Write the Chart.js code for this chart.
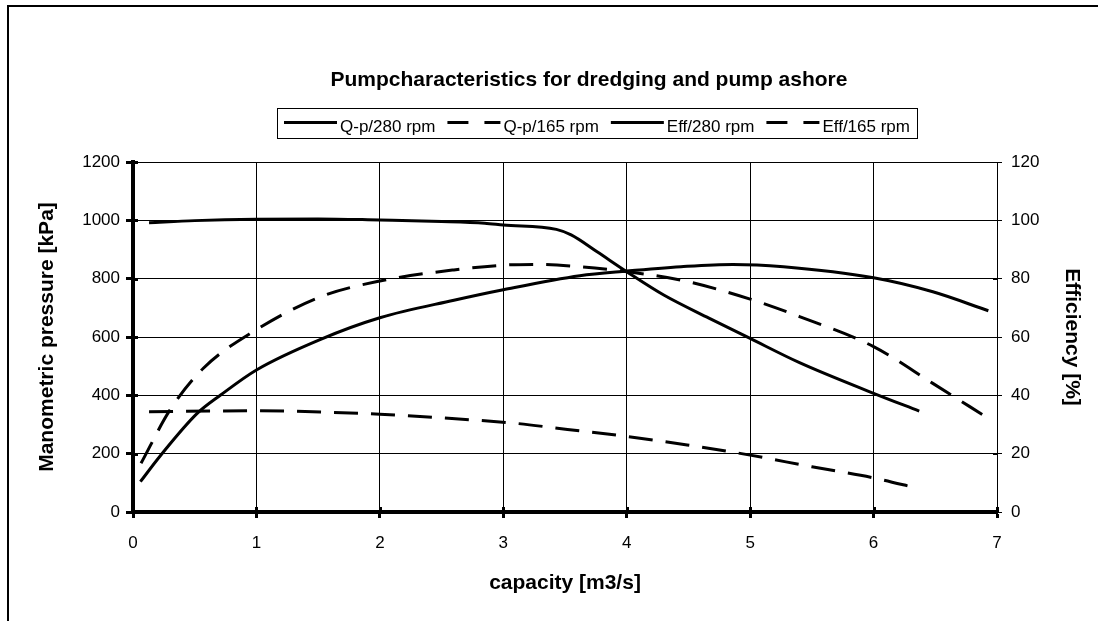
<!DOCTYPE html>
<html>
<head>
<meta charset="utf-8">
<script src="https://cdn.jsdelivr.net/npm/chart.js@4.4.1/dist/chart.umd.min.js"></script>
<style>
  html, body { margin: 0; padding: 0; background: #fff; }
</style>
</head>
<body>
<canvas id="myChart" width="1098" height="621"></canvas>
<script>
const chartTitle = 'Pumpcharacteristics for dredging and pump ashore';
const xTitle = 'capacity [m3/s]';
const yTitle = 'Manometric pressure [kPa]';
const y1Title = 'Efficiency [%]';
const seriesLabels = ['Q-p/280 rpm', 'Q-p/165 rpm', 'Eff/280 rpm', 'Eff/165 rpm'];

// pressure curves, kPa
const qp280X = [0.13, 0.5, 1.0, 1.5, 2.0, 2.5, 2.85, 3.0, 3.43, 3.55, 3.76, 4.0, 4.3, 4.67, 5.0, 5.4, 6.0, 6.37];
const qp280Y = [992, 999, 1004, 1005, 1001, 996, 990, 984, 969, 950, 892, 824, 744, 664, 595, 512, 407, 346];
const qp165X = [0.13, 1.0, 1.52, 2.0, 2.49, 3.1, 3.52, 4.0, 4.49, 5.0, 5.5, 6.0, 6.36];
const qp165Y = [344, 347, 343, 335, 323, 304, 283, 259, 230, 195, 155, 117, 81];

// efficiency curves, %
const eff280X = [0.06, 0.22, 0.52, 0.71, 1.0, 1.52, 2.0, 2.6, 3.0, 3.62, 4.0, 4.44, 4.86, 5.27, 6.0, 6.48, 6.93];
const eff280Y = [10.4, 19.2, 33.8, 40.1, 48.7, 59.2, 66.6, 72.6, 76.2, 81.0, 82.6, 84.1, 84.9, 84.1, 80.3, 75.5, 69.0];
const eff165X = [0.065, 0.30, 0.57, 0.98, 1.52, 2.0, 2.6, 3.03, 3.26, 3.62, 4.0, 4.44, 5.0, 5.4, 6.0, 6.48, 6.93];
const eff165Y = [16.7, 35.0, 49.3, 62.0, 73.8, 79.2, 83.0, 84.7, 84.9, 84.1, 82.4, 79.5, 73.0, 67.0, 56.7, 44.1, 32.1];

const FONT = '"Liberation Sans", Arial, sans-serif';
const DASH = [24, 13];

function pts(xs, ys) {
    return xs.map((x, i) => ({ x: x, y: ys[i] }));
}

function line(label, data, axis, dashed) {
    return {
        label: label,
        data: data,
        yAxisID: axis,
        borderColor: '#000',
        backgroundColor: '#000',
        borderWidth: 3,
        borderDash: dashed ? DASH : [],
        pointRadius: 0,
        cubicInterpolationMode: 'monotone',
        fill: false
    };
}

// frame, title, boxed legend and ticks that cross the axes
const extras = {
    id: 'extras',
    afterDraw(chart) {
        const ctx = chart.ctx;
        const area = chart.chartArea;
        ctx.save();

        ctx.strokeStyle = '#000';
        ctx.lineWidth = 2;
        ctx.beginPath();
        ctx.moveTo(8, 621);
        ctx.lineTo(8, 6);
        ctx.lineTo(1098, 6);
        ctx.stroke();

        // inner half of the tick marks
        const xs = chart.scales.x, ys = chart.scales.y, y1 = chart.scales.y1;
        ctx.lineWidth = 3;
        ctx.beginPath();
        xs.ticks.forEach(t => {
            const px = Math.round(xs.getPixelForValue(t.value)) + 0.5;
            ctx.moveTo(px, area.bottom - 5);
            ctx.lineTo(px, area.bottom);
        });
        ys.ticks.forEach(t => {
            const py = Math.round(ys.getPixelForValue(t.value)) + 0.5;
            ctx.moveTo(area.left, py);
            ctx.lineTo(area.left + 5, py);
        });
        ctx.stroke();
        ctx.lineWidth = 1;
        ctx.beginPath();
        y1.ticks.forEach(t => {
            const py = Math.round(y1.getPixelForValue(t.value)) + 0.5;
            ctx.moveTo(area.right - 4, py);
            ctx.lineTo(area.right, py);
        });
        ctx.stroke();

        // title
        ctx.fillStyle = '#000';
        ctx.font = 'bold 21px ' + FONT;
        ctx.textAlign = 'center';
        ctx.textBaseline = 'alphabetic';
        ctx.fillText(chartTitle, 589, 86);

        // legend
        ctx.font = '17px ' + FONT;
        const sample = 53, gapText = 3, gapItem = 12, padX = 7;
        const items = chart.data.datasets.map(ds => ({
            label: ds.label,
            dashed: ds.borderDash.length > 0,
            w: ctx.measureText(ds.label).width
        }));
        const total = items.reduce((s, it) => s + sample + gapText + it.w, 0) + gapItem * (items.length - 1);
        const boxL = Math.round(597 - total / 2 - padX);
        ctx.lineWidth = 1;
        ctx.setLineDash([]);
        ctx.strokeRect(boxL + 0.5, 108.5, Math.round(total + 2 * padX), 30);

        let x = boxL + padX;
        ctx.textAlign = 'left';
        items.forEach(it => {
            ctx.lineWidth = 3;
            ctx.setLineDash(it.dashed ? [21, 16] : []);
            ctx.beginPath();
            ctx.moveTo(x, 122.5);
            ctx.lineTo(x + sample, 122.5);
            ctx.stroke();
            ctx.setLineDash([]);
            ctx.fillText(it.label, x + sample + gapText, 131.5);
            x += sample + gapText + it.w + gapItem;
        });
        ctx.restore();
    }
};

const ctx = document.getElementById('myChart');
const plain = v => String(v);

new Chart(ctx, {
    type: 'line',
    data: {
        datasets: [
            line(seriesLabels[0], pts(qp280X, qp280Y), 'y', false),
            line(seriesLabels[1], pts(qp165X, qp165Y), 'y', true),
            line(seriesLabels[2], pts(eff280X, eff280Y), 'y1', false),
            line(seriesLabels[3], pts(eff165X, eff165Y), 'y1', true)
        ]
    },
    options: {
        responsive: false,
        animation: false,
        devicePixelRatio: 1,
        layout: { padding: { top: 162, left: 0, right: 0, bottom: 0 } },
        plugins: {
            legend: { display: false },
            title: { display: false },
            tooltip: { enabled: false }
        },
        scales: {
            x: {
                type: 'linear',
                min: 0,
                max: 7,
                afterFit: s => { s.height = 109; },
                ticks: { stepSize: 1, callback: plain, color: '#000', font: { family: FONT, size: 17 }, padding: 15, maxRotation: 0 },
                grid: { color: '#000', lineWidth: 1, tickColor: '#000', tickWidth: 3, tickLength: 6 },
                border: { display: true, color: '#000', width: 4 },
                title: { display: true, text: xTitle, color: '#000', font: { family: FONT, size: 21, weight: 'bold' }, padding: { top: 0, bottom: 25 } }
            },
            y: {
                position: 'left',
                min: 0,
                max: 1200,
                afterFit: s => { s.width = 133; },
                ticks: { stepSize: 200, callback: plain, color: '#000', font: { family: FONT, size: 17 }, padding: 6 },
                grid: { color: '#000', lineWidth: 1, tickColor: '#000', tickWidth: 3, tickLength: 7 },
                border: { display: true, color: '#000', width: 4 },
                title: { display: true, text: yTitle, color: '#000', font: { family: FONT, size: 21, weight: 'bold' }, padding: { top: 35, bottom: 0 } }
            },
            y1: {
                position: 'right',
                min: 0,
                max: 120,
                afterFit: s => { s.width = 101; },
                ticks: { stepSize: 20, callback: plain, color: '#000', font: { family: FONT, size: 17 }, padding: 9 },
                grid: { drawOnChartArea: false, color: '#000', tickColor: '#000', tickWidth: 1, tickLength: 5 },
                border: { display: true, color: '#000', width: 1 },
                title: { display: true, text: y1Title, color: '#000', font: { family: FONT, size: 21, weight: 'bold' }, padding: { top: 14, bottom: 0 } }
            }
        }
    },
    plugins: [extras]
});
</script>
</body>
</html>
